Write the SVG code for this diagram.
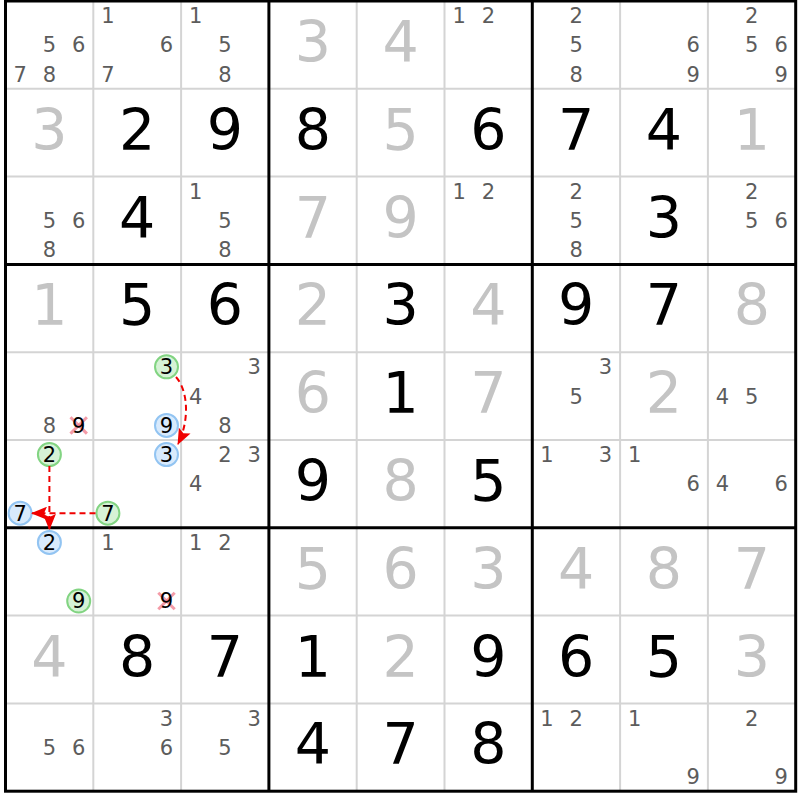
<svg xmlns="http://www.w3.org/2000/svg" width="800" height="800" viewBox="0 0 800 800">
<style>
text{font-family:"DejaVu Sans","Verdana",sans-serif;text-anchor:middle}
.c{font-size:21px;fill:#5c5c5c}
.k{font-size:21px;fill:#000}
.g{font-size:57px;fill:#000}
.s{font-size:57px;fill:#c4c4c4}
.thin{stroke:#d4d4d4;stroke-width:2}
.thick{stroke:#000;stroke-width:3;fill:none}
.gc{fill:#d6f2d6;stroke:#82d482;stroke-width:2}
.bc{fill:#d8eafc;stroke:#92c4f2;stroke-width:2}
.x{stroke:#f07a8a;stroke-width:3;stroke-opacity:0.75}
.arr{stroke:#f00000;stroke-width:2;stroke-dasharray:6 4;fill:none}
</style>
<defs>
<marker id="ah" markerUnits="userSpaceOnUse" markerWidth="16" markerHeight="13" viewBox="0 0 16 13" refX="15" refY="6.5" orient="auto">
<path d="M0,0 L16,6.5 L0,13 L3,6.5 z" fill="#f00000"/>
</marker>
</defs>
<rect x="0" y="0" width="800" height="800" fill="#fff"/>
<g id="grid">
<g class="thin">
<line x1="93.3" y1="1" x2="93.3" y2="791.2"/>
<line x1="181.1" y1="1" x2="181.1" y2="791.2"/>
<line x1="356.7" y1="1" x2="356.7" y2="791.2"/>
<line x1="444.5" y1="1" x2="444.5" y2="791.2"/>
<line x1="620.1" y1="1" x2="620.1" y2="791.2"/>
<line x1="707.9" y1="1" x2="707.9" y2="791.2"/>
<line x1="5.5" y1="88.8" x2="795.7" y2="88.8"/>
<line x1="5.5" y1="176.6" x2="795.7" y2="176.6"/>
<line x1="5.5" y1="352.2" x2="795.7" y2="352.2"/>
<line x1="5.5" y1="440" x2="795.7" y2="440"/>
<line x1="5.5" y1="615.6" x2="795.7" y2="615.6"/>
<line x1="5.5" y1="703.4" x2="795.7" y2="703.4"/>
</g>
<g class="thick">
<rect x="5.5" y="1" width="790.2" height="790.2"/>
<line x1="268.9" y1="1" x2="268.9" y2="791.2"/>
<line x1="532.3" y1="1" x2="532.3" y2="791.2"/>
<line x1="5.5" y1="264.4" x2="795.7" y2="264.4"/>
<line x1="5.5" y1="527.8" x2="795.7" y2="527.8"/>
</g>
</g>
<!-- Row 1 -->
<g id="r1c1"><text class="c" x="49.4" y="52.4">5</text><text class="c" x="78.7" y="52.4">6</text><text class="c" x="20.1" y="81.6">7</text><text class="c" x="49.4" y="81.6">8</text></g>
<g id="r1c2"><text class="c" x="107.9" y="23.2">1</text><text class="c" x="166.5" y="52.4">6</text><text class="c" x="107.9" y="81.6">7</text></g>
<g id="r1c3"><text class="c" x="195.7" y="23.2">1</text><text class="c" x="225" y="52.4">5</text><text class="c" x="225" y="81.6">8</text></g>
<g id="r1c4"><text class="s" x="312.8" y="62">3</text></g>
<g id="r1c5"><text class="s" x="400.6" y="62">4</text></g>
<g id="r1c6"><text class="c" x="459.1" y="23.2">1</text><text class="c" x="488.4" y="23.2">2</text></g>
<g id="r1c7"><text class="c" x="576.2" y="23.2">2</text><text class="c" x="576.2" y="52.4">5</text><text class="c" x="576.2" y="81.6">8</text></g>
<g id="r1c8"><text class="c" x="693.3" y="52.4">6</text><text class="c" x="693.3" y="81.6">9</text></g>
<g id="r1c9"><text class="c" x="751.8" y="23.2">2</text><text class="c" x="751.8" y="52.4">5</text><text class="c" x="781.1" y="52.4">6</text><text class="c" x="781.1" y="81.6">9</text></g>
<!-- Row 2 -->
<g id="r2c1"><text class="s" x="49.4" y="149.8">3</text></g>
<g id="r2c2"><text class="g" x="137.2" y="149.8">2</text></g>
<g id="r2c3"><text class="g" x="225" y="149.8">9</text></g>
<g id="r2c4"><text class="g" x="312.8" y="149.8">8</text></g>
<g id="r2c5"><text class="s" x="400.6" y="149.8">5</text></g>
<g id="r2c6"><text class="g" x="488.4" y="149.8">6</text></g>
<g id="r2c7"><text class="g" x="576.2" y="149.8">7</text></g>
<g id="r2c8"><text class="g" x="664" y="149.8">4</text></g>
<g id="r2c9"><text class="s" x="751.8" y="149.8">1</text></g>
<!-- Row 3 -->
<g id="r3c1"><text class="c" x="49.4" y="228">5</text><text class="c" x="78.7" y="228">6</text><text class="c" x="49.4" y="257.2">8</text></g>
<g id="r3c2"><text class="g" x="137.2" y="237.6">4</text></g>
<g id="r3c3"><text class="c" x="195.7" y="198.8">1</text><text class="c" x="225" y="228">5</text><text class="c" x="225" y="257.2">8</text></g>
<g id="r3c4"><text class="s" x="312.8" y="237.6">7</text></g>
<g id="r3c5"><text class="s" x="400.6" y="237.6">9</text></g>
<g id="r3c6"><text class="c" x="459.1" y="198.8">1</text><text class="c" x="488.4" y="198.8">2</text></g>
<g id="r3c7"><text class="c" x="576.2" y="198.8">2</text><text class="c" x="576.2" y="228">5</text><text class="c" x="576.2" y="257.2">8</text></g>
<g id="r3c8"><text class="g" x="664" y="237.6">3</text></g>
<g id="r3c9"><text class="c" x="751.8" y="198.8">2</text><text class="c" x="751.8" y="228">5</text><text class="c" x="781.1" y="228">6</text></g>
<!-- Row 4 -->
<g id="r4c1"><text class="s" x="49.4" y="325.4">1</text></g>
<g id="r4c2"><text class="g" x="137.2" y="325.4">5</text></g>
<g id="r4c3"><text class="g" x="225" y="325.4">6</text></g>
<g id="r4c4"><text class="s" x="312.8" y="325.4">2</text></g>
<g id="r4c5"><text class="g" x="400.6" y="325.4">3</text></g>
<g id="r4c6"><text class="s" x="488.4" y="325.4">4</text></g>
<g id="r4c7"><text class="g" x="576.2" y="325.4">9</text></g>
<g id="r4c8"><text class="g" x="664" y="325.4">7</text></g>
<g id="r4c9"><text class="s" x="751.8" y="325.4">8</text></g>
<!-- Row 5 -->
<g id="r5c1"><text class="c" x="49.4" y="432.8">8</text><line class="x" x1="70.5" y1="417.2" x2="86.9" y2="433.6"/><line class="x" x1="86.9" y1="417.2" x2="70.5" y2="433.6"/><text class="k" x="78.7" y="432.8">9</text></g>
<g id="r5c2"><circle class="gc" cx="166.5" cy="366.8" r="11.5"/><text class="k" x="166.5" y="374.4">3</text><circle class="bc" cx="166.5" cy="425.4" r="11.5"/><text class="k" x="166.5" y="432.8">9</text></g>
<g id="r5c3"><text class="c" x="254.3" y="374.4">3</text><text class="c" x="195.7" y="403.6">4</text><text class="c" x="225" y="432.8">8</text></g>
<g id="r5c4"><text class="s" x="312.8" y="413.2">6</text></g>
<g id="r5c5"><text class="g" x="400.6" y="413.2">1</text></g>
<g id="r5c6"><text class="s" x="488.4" y="413.2">7</text></g>
<g id="r5c7"><text class="c" x="605.5" y="374.4">3</text><text class="c" x="576.2" y="403.6">5</text></g>
<g id="r5c8"><text class="s" x="664" y="413.2">2</text></g>
<g id="r5c9"><text class="c" x="722.5" y="403.6">4</text><text class="c" x="751.8" y="403.6">5</text></g>
<!-- Row 6 -->
<g id="r6c1"><circle class="gc" cx="49.4" cy="454.6" r="11.5"/><text class="k" x="49.4" y="462.2">2</text><circle class="bc" cx="20.1" cy="513.2" r="11.5"/><text class="k" x="20.1" y="520.6">7</text></g>
<g id="r6c2"><circle class="bc" cx="166.5" cy="454.6" r="11.5"/><text class="k" x="166.5" y="462.2">3</text><circle class="gc" cx="107.9" cy="513.2" r="11.5"/><text class="k" x="107.9" y="520.6">7</text></g>
<g id="r6c3"><text class="c" x="225" y="462.2">2</text><text class="c" x="254.3" y="462.2">3</text><text class="c" x="195.7" y="491.4">4</text></g>
<g id="r6c4"><text class="g" x="312.8" y="501">9</text></g>
<g id="r6c5"><text class="s" x="400.6" y="501">8</text></g>
<g id="r6c6"><text class="g" x="488.4" y="501">5</text></g>
<g id="r6c7"><text class="c" x="546.9" y="462.2">1</text><text class="c" x="605.5" y="462.2">3</text></g>
<g id="r6c8"><text class="c" x="634.7" y="462.2">1</text><text class="c" x="693.3" y="491.4">6</text></g>
<g id="r6c9"><text class="c" x="722.5" y="491.4">4</text><text class="c" x="781.1" y="491.4">6</text></g>
<!-- Row 7 -->
<g id="r7c1"><circle class="bc" cx="49.4" cy="542.4" r="11.5"/><text class="k" x="49.4" y="550">2</text><circle class="gc" cx="78.7" cy="601" r="11.5"/><text class="k" x="78.7" y="608.4">9</text></g>
<g id="r7c2"><text class="c" x="107.9" y="550">1</text><line class="x" x1="158.3" y1="592.8" x2="174.7" y2="609.2"/><line class="x" x1="174.7" y1="592.8" x2="158.3" y2="609.2"/><text class="k" x="166.5" y="608.4">9</text></g>
<g id="r7c3"><text class="c" x="195.7" y="550">1</text><text class="c" x="225" y="550">2</text></g>
<g id="r7c4"><text class="s" x="312.8" y="588.8">5</text></g>
<g id="r7c5"><text class="s" x="400.6" y="588.8">6</text></g>
<g id="r7c6"><text class="s" x="488.4" y="588.8">3</text></g>
<g id="r7c7"><text class="s" x="576.2" y="588.8">4</text></g>
<g id="r7c8"><text class="s" x="664" y="588.8">8</text></g>
<g id="r7c9"><text class="s" x="751.8" y="588.8">7</text></g>
<!-- Row 8 -->
<g id="r8c1"><text class="s" x="49.4" y="676.6">4</text></g>
<g id="r8c2"><text class="g" x="137.2" y="676.6">8</text></g>
<g id="r8c3"><text class="g" x="225" y="676.6">7</text></g>
<g id="r8c4"><text class="g" x="312.8" y="676.6">1</text></g>
<g id="r8c5"><text class="s" x="400.6" y="676.6">2</text></g>
<g id="r8c6"><text class="g" x="488.4" y="676.6">9</text></g>
<g id="r8c7"><text class="g" x="576.2" y="676.6">6</text></g>
<g id="r8c8"><text class="g" x="664" y="676.6">5</text></g>
<g id="r8c9"><text class="s" x="751.8" y="676.6">3</text></g>
<!-- Row 9 -->
<g id="r9c1"><text class="c" x="49.4" y="754.8">5</text><text class="c" x="78.7" y="754.8">6</text></g>
<g id="r9c2"><text class="c" x="166.5" y="725.6">3</text><text class="c" x="166.5" y="754.8">6</text></g>
<g id="r9c3"><text class="c" x="254.3" y="725.6">3</text><text class="c" x="225" y="754.8">5</text></g>
<g id="r9c4"><text class="g" x="312.8" y="764.4">4</text></g>
<g id="r9c5"><text class="g" x="400.6" y="764.4">7</text></g>
<g id="r9c6"><text class="g" x="488.4" y="764.4">8</text></g>
<g id="r9c7"><text class="c" x="546.9" y="725.6">1</text><text class="c" x="576.2" y="725.6">2</text></g>
<g id="r9c8"><text class="c" x="634.7" y="725.6">1</text><text class="c" x="693.3" y="784">9</text></g>
<g id="r9c9"><text class="c" x="751.8" y="725.6">2</text><text class="c" x="781.1" y="784">9</text></g>
<g id="connectors">
<path class="arr" d="M176,377 C189,392 189,422 178,444" marker-end="url(#ah)"/>
<path class="arr" d="M49.4,466 L49.4,529" marker-end="url(#ah)"/>
<path class="arr" d="M95.5,513.2 L32,513.2" marker-end="url(#ah)"/>
</g>
</svg>
